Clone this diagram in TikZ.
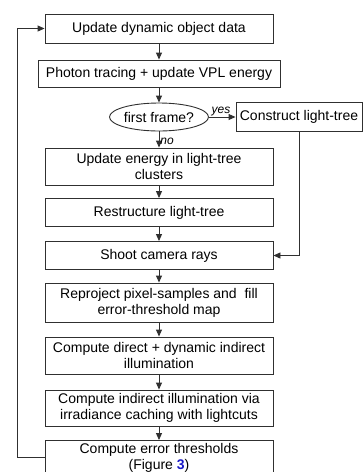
\documentclass[tikz,border=0pt]{standalone}
\usepackage{fontspec}
\setmainfont{Liberation Sans}
\usepackage{tikz}
\usetikzlibrary{arrows.meta,positioning,calc,shapes.geometric}
\usepackage{xcolor}
\definecolor{fline}{HTML}{303030}
\definecolor{figblue}{HTML}{1A1AC8}
\tikzset{
  block/.style    = {draw=fline, line width=0.9pt, rectangle, minimum height=28pt,
                     minimum width=228pt, align=center, inner sep=1pt},
  decision/.style = {draw=fline, line width=0.9pt, ellipse, minimum height=28pt,
                     minimum width=98pt, inner sep=0pt},
  sig/.style      = {-{Triangle[length=7pt,width=6pt]}, draw=fline, line width=0.9pt},
  lbl/.style      = {font=\fontsize{12}{13}\selectfont\itshape, inner sep=1pt},
}

\begin{document}
\begin{tikzpicture}[x=1pt,y=1pt,font=\fontsize{14}{16}\selectfont]
\useasboundingbox (0,0) rectangle (363,-472);
% ---- main column ----
\node[block, minimum height=29pt] (upd) at (159,-28.5) {Update dynamic object data};
\node[block, minimum width=242pt, minimum height=27pt] (photon) at (159,-73.5)
  {Photon tracing + update VPL energy};
\node[decision] (first) at (159,-117) {first frame?};
\node[block, minimum width=126pt, minimum height=29pt] (cons) at (299,-117)
  {Construct light-tree};
\node[block, minimum height=37pt] (energy) at (159,-166.5)
  {Update energy in light-tree\\clusters};
\node[block] (restr) at (159,-212.5) {Restructure light-tree};
\node[block] (shoot) at (159,-255.5) {Shoot camera rays};
\node[block, minimum height=39pt] (reproj) at (159,-302.5)
  {Reproject pixel-samples and~ fill\\error-threshold map};
\node[block, minimum height=37pt] (direct) at (159,-355.5)
  {Compute direct + dynamic indirect\\illumination};
\node[block, minimum height=36pt] (indir) at (159,-408)
  {Compute indirect illumination via\\irradiance caching with lightcuts};
\node[block, minimum height=34pt] (thresh) at (159,-457.5)
  {Compute error thresholds\\(Figure {\color{figblue}\textbf{3}})};
\coordinate (loop) at (17,0);
% ---- connectors ----
\draw[sig] (upd) -- (photon);
\draw[sig] (photon) -- (first);
\draw[sig] (first) -- node[lbl, above, pos=0.45]{yes} (cons);
\draw[sig] (first) -- node[lbl, right, pos=0.6]{no} (energy);
\draw[sig] (energy) -- (restr);
\draw[sig] (restr) -- (shoot);
\draw[sig] (cons.south) |- (shoot.east);
\draw[sig] (shoot) -- (reproj);
\draw[sig] (reproj) -- (direct);
\draw[sig] (direct) -- (indir);
\draw[sig] (indir) -- (thresh);
% back to the top for the next frame
\draw[sig] (thresh.west) -- (thresh.west -| loop) |- (upd.west);
\end{tikzpicture}
\end{document}
